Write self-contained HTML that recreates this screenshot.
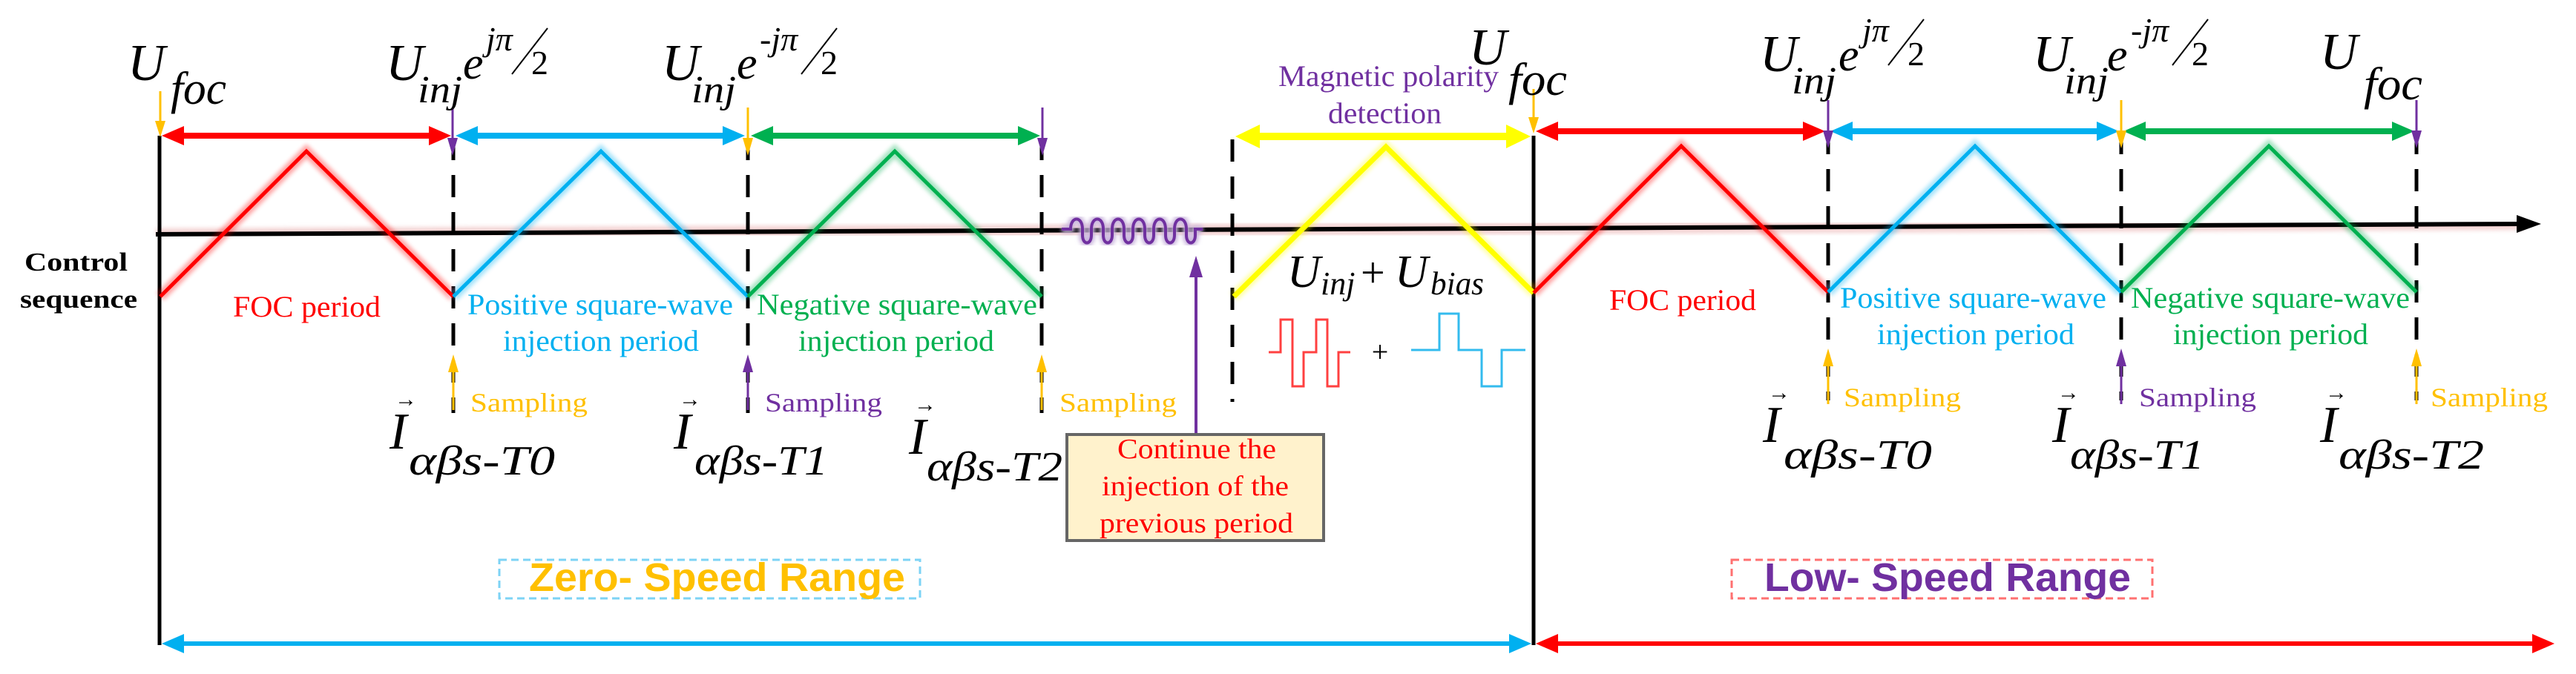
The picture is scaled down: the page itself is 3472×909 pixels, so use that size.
<!DOCTYPE html>
<html><head><meta charset="utf-8"><style>
html,body{margin:0;padding:0;background:#fff;}
svg{display:block;font-family:"Liberation Serif",serif;}
</style></head><body>
<svg width="3472" height="909" viewBox="0 0 3472 909" xmlns="http://www.w3.org/2000/svg">
<defs>
<filter id="g" x="-10%" y="-10%" width="120%" height="120%"><feGaussianBlur stdDeviation="3"/></filter>
</defs>

<line x1="210" y1="316" x2="3400" y2="302" stroke="#e8a8a8" stroke-width="16" opacity="0.5" filter="url(#g)"/>
<line x1="210" y1="316" x2="3400" y2="302" stroke="#000" stroke-width="6"/>
<polygon points="3425,302 3392,290 3392,314" fill="#000"/>

<line x1="215" y1="183" x2="215" y2="870" stroke="#000" stroke-width="5"/>
<line x1="2067" y1="183" x2="2067" y2="870" stroke="#000" stroke-width="5"/>

<g stroke="#000" stroke-width="5" stroke-dasharray="30,20">
<line x1="611" y1="186" x2="611" y2="557"/>
<line x1="1008" y1="186" x2="1008" y2="557"/>
<line x1="1404" y1="186" x2="1404" y2="557"/>
<line x1="1661" y1="188" x2="1661" y2="542"/>
<line x1="2464" y1="178" x2="2464" y2="540"/>
<line x1="2859" y1="178" x2="2859" y2="540"/>
<line x1="3257" y1="178" x2="3257" y2="540"/>
</g>

<g fill="none" stroke-width="14" opacity="0.35" filter="url(#g)">
<polyline points="216,400 413,204 611,400" stroke="#ff0000"/>
<polyline points="611,400 810,204 1008,400" stroke="#00b0f0"/>
<polyline points="1008,400 1206,204 1404,400" stroke="#00b050"/>
<polyline points="1663,400 1868,198 2067,395" stroke="#ffff00"/>
<polyline points="2067,395 2266,197 2464,394" stroke="#ff0000"/>
<polyline points="2464,394 2662,197 2859,394" stroke="#00b0f0"/>
<polyline points="2859,394 3058,197 3257,394" stroke="#00b050"/>
</g>
<g fill="none" stroke-width="5">
<polyline points="216,400 413,204 611,400" stroke="#ff0000"/>
<polyline points="611,400 810,204 1008,400" stroke="#00b0f0"/>
<polyline points="1008,400 1206,204 1404,400" stroke="#00b050"/>
<polyline points="1663,400 1868,198 2067,395" stroke="#ffff00" stroke-width="7"/>
<polyline points="2067,395 2266,197 2464,394" stroke="#ff0000"/>
<polyline points="2464,394 2662,197 2859,394" stroke="#00b0f0"/>
<polyline points="2859,394 3058,197 3257,394" stroke="#00b050"/>
</g>

<g>
<line x1="240" y1="183" x2="585" y2="183" stroke="#ff0000" stroke-width="8"/>
<polygon points="218,183 248,170 248,196" fill="#ff0000"/><polygon points="608,183 578,170 578,196" fill="#ff0000"/>
<line x1="636" y1="183" x2="982" y2="183" stroke="#00b0f0" stroke-width="8"/>
<polygon points="614,183 644,170 644,196" fill="#00b0f0"/><polygon points="1004,183 974,170 974,196" fill="#00b0f0"/>
<line x1="1034" y1="183" x2="1380" y2="183" stroke="#00b050" stroke-width="8"/>
<polygon points="1012,183 1042,170 1042,196" fill="#00b050"/><polygon points="1402,183 1372,170 1372,196" fill="#00b050"/>
<line x1="1690" y1="184" x2="2038" y2="184" stroke="#ffff00" stroke-width="10"/>
<polygon points="1665,184 1698,168 1698,200" fill="#ffff00"/><polygon points="2063,184 2030,168 2030,200" fill="#ffff00"/>
<line x1="2092" y1="177" x2="2438" y2="177" stroke="#ff0000" stroke-width="8"/>
<polygon points="2070,177 2100,164 2100,190" fill="#ff0000"/><polygon points="2460,177 2430,164 2430,190" fill="#ff0000"/>
<line x1="2489" y1="177" x2="2834" y2="177" stroke="#00b0f0" stroke-width="8"/>
<polygon points="2467,177 2497,164 2497,190" fill="#00b0f0"/><polygon points="2856,177 2826,164 2826,190" fill="#00b0f0"/>
<line x1="2884" y1="177" x2="3232" y2="177" stroke="#00b050" stroke-width="8"/>
<polygon points="2862,177 2892,164 2892,190" fill="#00b050"/><polygon points="3254,177 3224,164 3224,190" fill="#00b050"/>
</g>

<g stroke-width="3">
<line x1="216" y1="123" x2="216" y2="165" stroke="#ffc000"/><polygon points="216,185 209,163 223,163" fill="#ffc000"/>
<line x1="610" y1="145" x2="610" y2="190" stroke="#7030a0"/><polygon points="610,210 603,186 617,186" fill="#7030a0"/>
<line x1="1008" y1="145" x2="1008" y2="190" stroke="#ffc000"/><polygon points="1008,210 1001,186 1015,186" fill="#ffc000"/>
<line x1="1405" y1="145" x2="1405" y2="190" stroke="#7030a0"/><polygon points="1405,210 1398,186 1412,186" fill="#7030a0"/>
<line x1="2067" y1="120" x2="2067" y2="160" stroke="#ffc000"/><polygon points="2067,180 2060,158 2074,158" fill="#ffc000"/>
<line x1="2464" y1="135" x2="2464" y2="180" stroke="#7030a0"/><polygon points="2464,200 2457,176 2471,176" fill="#7030a0"/>
<line x1="2859" y1="135" x2="2859" y2="180" stroke="#ffc000"/><polygon points="2859,200 2852,176 2866,176" fill="#ffc000"/>
<line x1="3257" y1="135" x2="3257" y2="180" stroke="#7030a0"/><polygon points="3257,200 3250,176 3264,176" fill="#7030a0"/>
</g>

<path d="M1431,309 h12 c0,-18 16,-18 16,0 v8 c0,14 12,14 12,0 v-8 c0,-18 16,-18 16,0 v8 c0,14 12,14 12,0 v-8 c0,-18 16,-18 16,0 v8 c0,14 12,14 12,0 v-8 c0,-18 16,-18 16,0 v8 c0,14 12,14 12,0 v-8 c0,-18 16,-18 16,0 v8 c0,14 12,14 12,0 v-8 c0,-18 16,-18 16,0 v8 c0,14 12,14 12,0 v-8 h10" fill="none" stroke="#c8b4dc" stroke-width="10" filter="url(#g)"/>
<path d="M1431,309 h12 c0,-18 16,-18 16,0 v8 c0,14 12,14 12,0 v-8 c0,-18 16,-18 16,0 v8 c0,14 12,14 12,0 v-8 c0,-18 16,-18 16,0 v8 c0,14 12,14 12,0 v-8 c0,-18 16,-18 16,0 v8 c0,14 12,14 12,0 v-8 c0,-18 16,-18 16,0 v8 c0,14 12,14 12,0 v-8 c0,-18 16,-18 16,0 v8 c0,14 12,14 12,0 v-8 h10" fill="none" stroke="#7030a0" stroke-width="4"/>

<g stroke-width="3">
<line x1="611" y1="500" x2="611" y2="553" stroke="#ffc000"/><polygon points="611,478 604,502 618,502" fill="#ffc000"/>
<line x1="1008" y1="500" x2="1008" y2="553" stroke="#7030a0"/><polygon points="1008,478 1001,502 1015,502" fill="#7030a0"/>
<line x1="1404" y1="500" x2="1404" y2="553" stroke="#ffc000"/><polygon points="1404,478 1397,502 1411,502" fill="#ffc000"/>
<line x1="1612" y1="370" x2="1612" y2="586" stroke="#7030a0" stroke-width="4"/><polygon points="1612,345 1603,374 1621,374" fill="#7030a0"/>
<line x1="2464" y1="492" x2="2464" y2="545" stroke="#ffc000"/><polygon points="2464,470 2457,494 2471,494" fill="#ffc000"/>
<line x1="2859" y1="492" x2="2859" y2="545" stroke="#7030a0"/><polygon points="2859,470 2852,494 2866,494" fill="#7030a0"/>
<line x1="3257" y1="492" x2="3257" y2="545" stroke="#ffc000"/><polygon points="3257,470 3250,494 3264,494" fill="#ffc000"/>
</g>

<polyline points="1710,475 1726,475 1726,431 1742,431 1742,521 1757,521 1757,475 1774,475 1774,431 1789,431 1789,521 1804,521 1804,475 1820,475" fill="none" stroke="#ff4040" stroke-width="3"/>
<text x="1860" y="488" font-size="40" text-anchor="middle">+</text>
<polyline points="1902,472 1940,472 1940,423 1966,423 1966,472 1997,472 1997,521 2024,521 2024,472 2056,472" fill="none" stroke="#33bbee" stroke-width="3"/>

<line x1="240" y1="868" x2="2042" y2="868" stroke="#00b0f0" stroke-width="6"/>
<polygon points="218,868 248,855 248,881" fill="#00b0f0"/><polygon points="2064,868 2034,855 2034,881" fill="#00b0f0"/>
<line x1="2094" y1="868" x2="3418" y2="868" stroke="#ff0000" stroke-width="6"/>
<polygon points="2070,868 2100,855 2100,881" fill="#ff0000"/><polygon points="3443,868 3413,855 3413,881" fill="#ff0000"/>

<rect x="673" y="755" width="567" height="52" fill="none" stroke="#7dd3f5" stroke-width="3" stroke-dasharray="10,6"/>
<text x="713" y="797" style="font-family:'Liberation Sans',sans-serif;font-weight:bold" font-size="54" fill="#ffc000" textLength="507" lengthAdjust="spacingAndGlyphs">Zero- Speed Range</text>
<rect x="2334" y="755" width="567" height="52" fill="none" stroke="#ff7070" stroke-width="3" stroke-dasharray="10,6"/>
<text x="2378" y="797" style="font-family:'Liberation Sans',sans-serif;font-weight:bold" font-size="54" fill="#7030a0" textLength="494" lengthAdjust="spacingAndGlyphs">Low- Speed Range</text>

<rect x="1438" y="586" width="346" height="143" fill="#fff2cc" stroke="#666" stroke-width="4"/>
<g fill="#ff0000" font-size="38">
<text x="1506" y="618" textLength="214" lengthAdjust="spacingAndGlyphs">Continue the</text>
<text x="1485" y="668" textLength="252" lengthAdjust="spacingAndGlyphs">injection of the</text>
<text x="1482" y="718" textLength="261" lengthAdjust="spacingAndGlyphs">previous period</text>
</g>

<text x="33" y="365" font-size="35" font-weight="bold" textLength="139" lengthAdjust="spacingAndGlyphs">Control</text>
<text x="27" y="415" font-size="35" font-weight="bold" textLength="158" lengthAdjust="spacingAndGlyphs">sequence</text>

<g font-size="40">
<text x="314" y="427" fill="#ff0000" textLength="199" lengthAdjust="spacingAndGlyphs">FOC period</text>
<text x="630" y="424" fill="#00b0f0" textLength="358" lengthAdjust="spacingAndGlyphs">Positive square-wave</text>
<text x="678" y="473" fill="#00b0f0" textLength="264" lengthAdjust="spacingAndGlyphs">injection period</text>
<text x="1020" y="424" fill="#00b050" textLength="378" lengthAdjust="spacingAndGlyphs">Negative square-wave</text>
<text x="1076" y="473" fill="#00b050" textLength="264" lengthAdjust="spacingAndGlyphs">injection period</text>
<text x="2169" y="418" fill="#ff0000" textLength="198" lengthAdjust="spacingAndGlyphs">FOC period</text>
<text x="2480" y="415" fill="#00b0f0" textLength="359" lengthAdjust="spacingAndGlyphs">Positive square-wave</text>
<text x="2530" y="464" fill="#00b0f0" textLength="266" lengthAdjust="spacingAndGlyphs">injection period</text>
<text x="2872" y="415" fill="#00b050" textLength="376" lengthAdjust="spacingAndGlyphs">Negative square-wave</text>
<text x="2929" y="464" fill="#00b050" textLength="263" lengthAdjust="spacingAndGlyphs">injection period</text>
<text x="1723" y="116" fill="#7030a0" textLength="297" lengthAdjust="spacingAndGlyphs">Magnetic polarity</text>
<text x="1790" y="166" fill="#7030a0" textLength="153" lengthAdjust="spacingAndGlyphs">detection</text>
</g>

<g font-size="36">
<text x="634" y="555" fill="#ffc000" textLength="158" lengthAdjust="spacingAndGlyphs">Sampling</text>
<text x="1031" y="555" fill="#7030a0" textLength="158" lengthAdjust="spacingAndGlyphs">Sampling</text>
<text x="1428" y="555" fill="#ffc000" textLength="158" lengthAdjust="spacingAndGlyphs">Sampling</text>
<text x="2485" y="548" fill="#ffc000" textLength="158" lengthAdjust="spacingAndGlyphs">Sampling</text>
<text x="2883" y="548" fill="#7030a0" textLength="158" lengthAdjust="spacingAndGlyphs">Sampling</text>
<text x="3276" y="548" fill="#ffc000" textLength="158" lengthAdjust="spacingAndGlyphs">Sampling</text>
</g>

<g font-style="italic">
<text x="525" y="605" font-size="70">I</text><text x="532" y="548" font-size="30" font-style="normal">→</text>
<text x="551" y="640" font-size="56" textLength="197" lengthAdjust="spacingAndGlyphs">αβs-T0</text>
<text x="908" y="605" font-size="70">I</text><text x="915" y="548" font-size="30" font-style="normal">→</text>
<text x="936" y="640" font-size="56" textLength="180" lengthAdjust="spacingAndGlyphs">αβs-T1</text>
<text x="1225" y="612" font-size="70">I</text><text x="1232" y="555" font-size="30" font-style="normal">→</text>
<text x="1249" y="648" font-size="56" textLength="183" lengthAdjust="spacingAndGlyphs">αβs-T2</text>
<text x="2376" y="596" font-size="70">I</text><text x="2383" y="539" font-size="30" font-style="normal">→</text>
<text x="2404" y="632" font-size="56" textLength="200" lengthAdjust="spacingAndGlyphs">αβs-T0</text>
<text x="2766" y="596" font-size="70">I</text><text x="2773" y="539" font-size="30" font-style="normal">→</text>
<text x="2790" y="632" font-size="56" textLength="181" lengthAdjust="spacingAndGlyphs">αβs-T1</text>
<text x="3127" y="596" font-size="70">I</text><text x="3134" y="539" font-size="30" font-style="normal">→</text>
<text x="3152" y="632" font-size="56" textLength="196" lengthAdjust="spacingAndGlyphs">αβs-T2</text>
</g>

<g font-style="italic">
<text x="172" y="108" font-size="70">U</text>
<text x="230" y="140" font-size="62" textLength="75" lengthAdjust="spacingAndGlyphs">foc</text>
<text x="520" y="108" font-size="70">U</text>
<text x="563" y="138" font-size="52" textLength="60" lengthAdjust="spacingAndGlyphs">inj</text>
<text x="624" y="106" font-size="62">e</text>
<text x="655" y="68" font-size="46">jπ</text>
<line x1="690" y1="100" x2="738" y2="38" stroke="#000" stroke-width="2"/>
<text x="716" y="100" font-size="46" font-style="normal">2</text>
<text x="892" y="108" font-size="70">U</text>
<text x="932" y="138" font-size="52" textLength="60" lengthAdjust="spacingAndGlyphs">inj</text>
<text x="993" y="106" font-size="62">e</text>
<text x="1024" y="68" font-size="46">-jπ</text>
<line x1="1080" y1="100" x2="1128" y2="38" stroke="#000" stroke-width="2"/>
<text x="1106" y="100" font-size="46" font-style="normal">2</text>
<text x="1980" y="87" font-size="70">U</text>
<text x="2033" y="128" font-size="62" textLength="79" lengthAdjust="spacingAndGlyphs">foc</text>
<text x="2372" y="96" font-size="70">U</text>
<text x="2415" y="126" font-size="52" textLength="60" lengthAdjust="spacingAndGlyphs">inj</text>
<text x="2478" y="95" font-size="62">e</text>
<text x="2510" y="56" font-size="46">jπ</text>
<line x1="2545" y1="88" x2="2593" y2="26" stroke="#000" stroke-width="2"/>
<text x="2571" y="88" font-size="46" font-style="normal">2</text>
<text x="2740" y="96" font-size="70">U</text>
<text x="2782" y="126" font-size="52" textLength="60" lengthAdjust="spacingAndGlyphs">inj</text>
<text x="2840" y="95" font-size="62">e</text>
<text x="2872" y="56" font-size="46">-jπ</text>
<line x1="2928" y1="88" x2="2976" y2="26" stroke="#000" stroke-width="2"/>
<text x="2954" y="88" font-size="46" font-style="normal">2</text>
<text x="3127" y="93" font-size="70">U</text>
<text x="3186" y="134" font-size="62" textLength="79" lengthAdjust="spacingAndGlyphs">foc</text>
<text x="1735" y="387" font-size="62">U</text>
<text x="1780" y="397" font-size="44">inj</text>
<text x="1834" y="387" font-size="58" font-style="normal">+</text>
<text x="1880" y="387" font-size="62">U</text>
<text x="1928" y="397" font-size="44" textLength="72" lengthAdjust="spacingAndGlyphs">bias</text>
</g>
</svg>
</body></html>
